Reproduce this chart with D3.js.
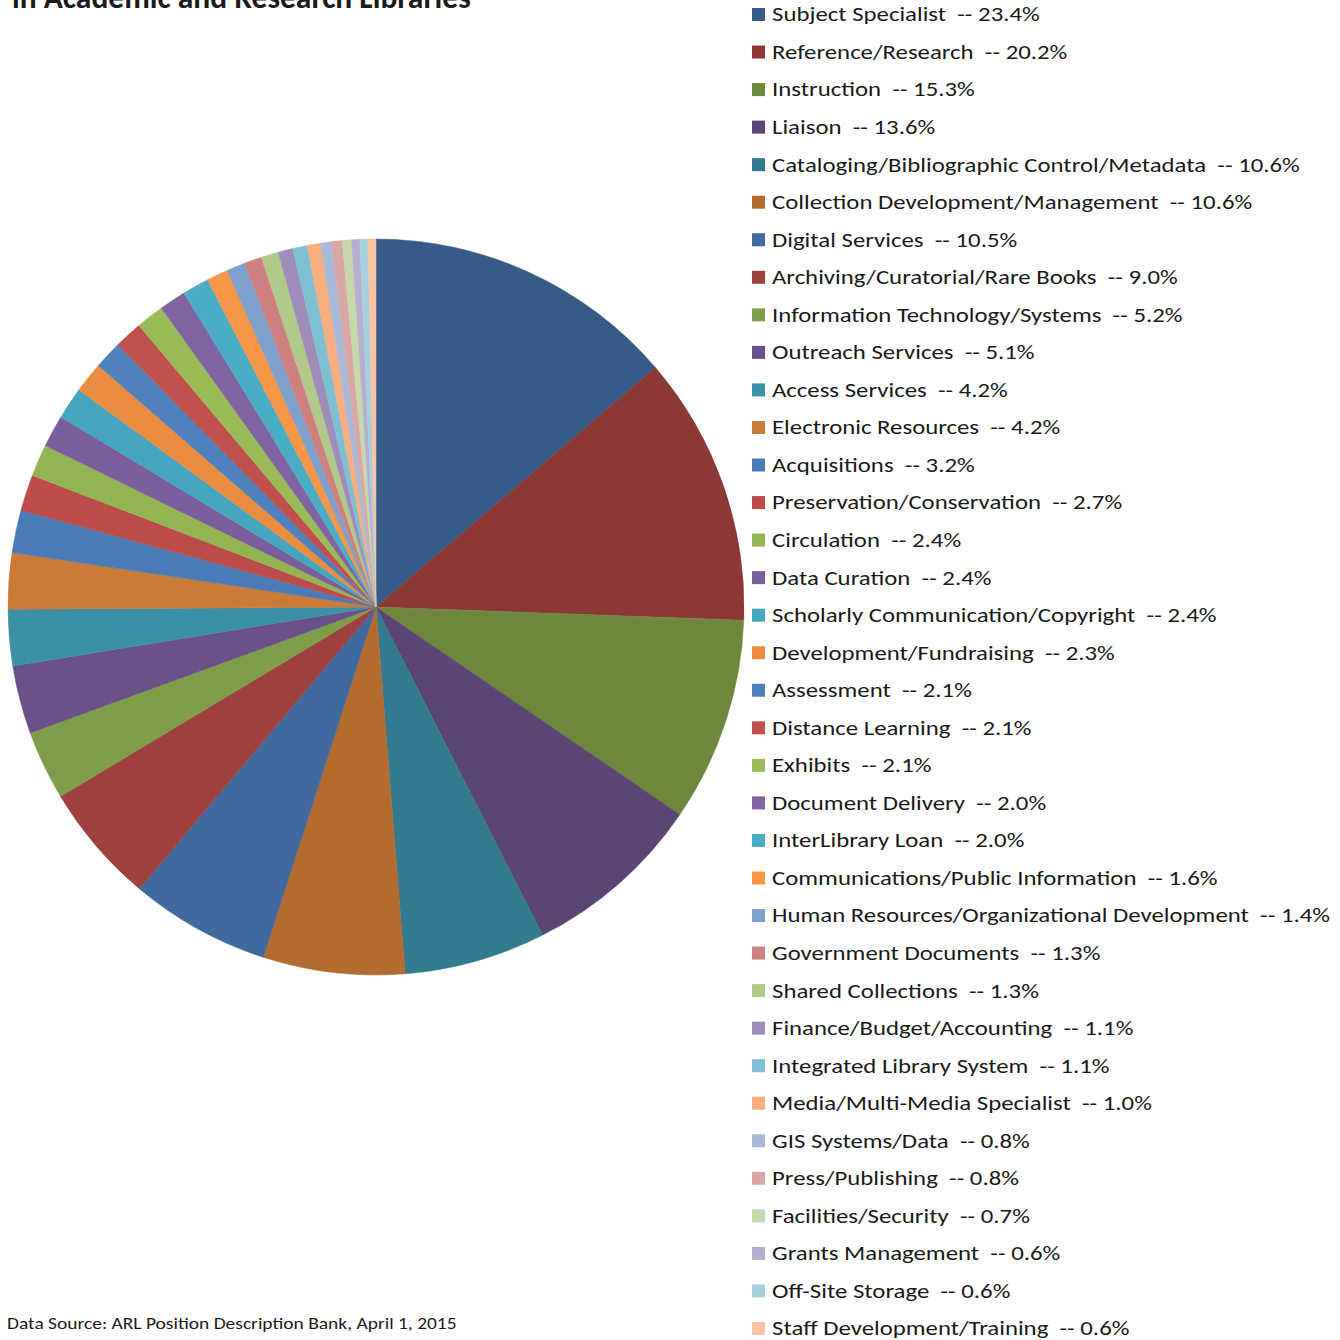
<!DOCTYPE html>
<html>
<head>
<meta charset="utf-8">
<script src="https://cdn.jsdelivr.net/npm/d3@7"></script>
<style>
  html, body { margin: 0; padding: 0; background: #fff; }
  svg { display: block; }
  text { font-family: Carlito, Lato, "Open Sans", sans-serif; }
</style>
</head>
<body>
<svg id="chart" width="1340" height="1340"></svg>
<script>
const categories = [
  "Subject Specialist", "Reference/Research", "Instruction", "Liaison",
  "Cataloging/Bibliographic Control/Metadata", "Collection Development/Management",
  "Digital Services", "Archiving/Curatorial/Rare Books", "Information Technology/Systems",
  "Outreach Services", "Access Services", "Electronic Resources", "Acquisitions",
  "Preservation/Conservation", "Circulation", "Data Curation",
  "Scholarly Communication/Copyright", "Development/Fundraising", "Assessment",
  "Distance Learning", "Exhibits", "Document Delivery", "InterLibrary Loan",
  "Communications/Public Information", "Human Resources/Organizational Development",
  "Government Documents", "Shared Collections", "Finance/Budget/Accounting",
  "Integrated Library System", "Media/Multi-Media Specialist", "GIS Systems/Data",
  "Press/Publishing", "Facilities/Security", "Grants Management", "Off-Site Storage",
  "Staff Development/Training"
];
const values = [
  23.4, 20.2, 15.3, 13.6, 10.6, 10.6, 10.5, 9.0, 5.2, 5.1, 4.2, 4.2, 3.2, 2.7,
  2.4, 2.4, 2.4, 2.3, 2.1, 2.1, 2.1, 2.0, 2.0, 1.6, 1.4, 1.3, 1.3, 1.1, 1.1,
  1.0, 0.8, 0.8, 0.7, 0.6, 0.6, 0.6
];
const colors = [
  "#375B89", "#8B3836", "#6F873D", "#5B4574", "#327B8F", "#B36B30",
  "#40699E", "#9E413E", "#7F9C48", "#6A5289", "#3C90A6", "#CB7A37",
  "#4A7BB7", "#BC4C49", "#94B454", "#7A5E9C", "#46A6BF", "#EB8D40",
  "#4F81BD", "#C0504D", "#9BBB59", "#8064A2", "#4BACC6", "#F79646",
  "#7F9FCC", "#CD807E", "#B1C989", "#9E8CBA", "#7FBFD3", "#F8AE7E",
  "#A8BADA", "#D9A7A6", "#C6D8AC", "#B8AED0", "#A6D0DC", "#F9C4A4"
];
const titleText = "in Academic and Research Libraries";
const sourceText = "Data Source: ARL Position Description Bank, April 1, 2015";

const svg = d3.select("#chart");

// Title (upper part cut off by the top edge in the reference)
svg.append("text")
  .attr("transform", "translate(12,8)")
  .attr("font-size", 31.5).attr("font-weight", "bold").attr("fill", "#1a1a1a")
  .text(titleText);

// Pie
const cx = 376, cy = 607, R = 368;
const pie = d3.pie().sort(null).value(d => d.v);
const data = categories.map((c, i) => ({ c, v: values[i], col: colors[i] }));
const arc = d3.arc().innerRadius(0).outerRadius(R);
svg.append("g").attr("transform", `translate(${cx},${cy})`)
  .selectAll("path").data(pie(data)).join("path")
  .attr("d", arc)
  .attr("fill", d => d.data.col)
  .attr("stroke", d => d.data.col)
  .attr("stroke-width", 0.5);

// Legend
const ly = d3.scalePoint().domain(categories).range([14, 1328]);
const lg = svg.append("g");
const rows = lg.selectAll("g").data(data).join("g")
  .attr("transform", d => `translate(752,${ly(d.c)})`);
rows.append("rect").attr("x", 0).attr("y", -6).attr("width", 13).attr("height", 13)
  .attr("fill", d => d.col);
rows.append("text")
  .attr("transform", "translate(20,0) scale(1.21,1)")
  .attr("dy", "0.36em")
  .attr("font-size", 20.5).attr("fill", "#1a1a1a")
  .style("white-space", "pre")
  .text(d => `${d.c}  -- ${d.v.toFixed(1)}%`);

// Footer
svg.append("text")
  .attr("transform", "translate(7,1329) scale(1.18,1)")
  .attr("font-size", 16.5).attr("fill", "#1a1a1a")
  .text(sourceText);
</script>
</body>
</html>
